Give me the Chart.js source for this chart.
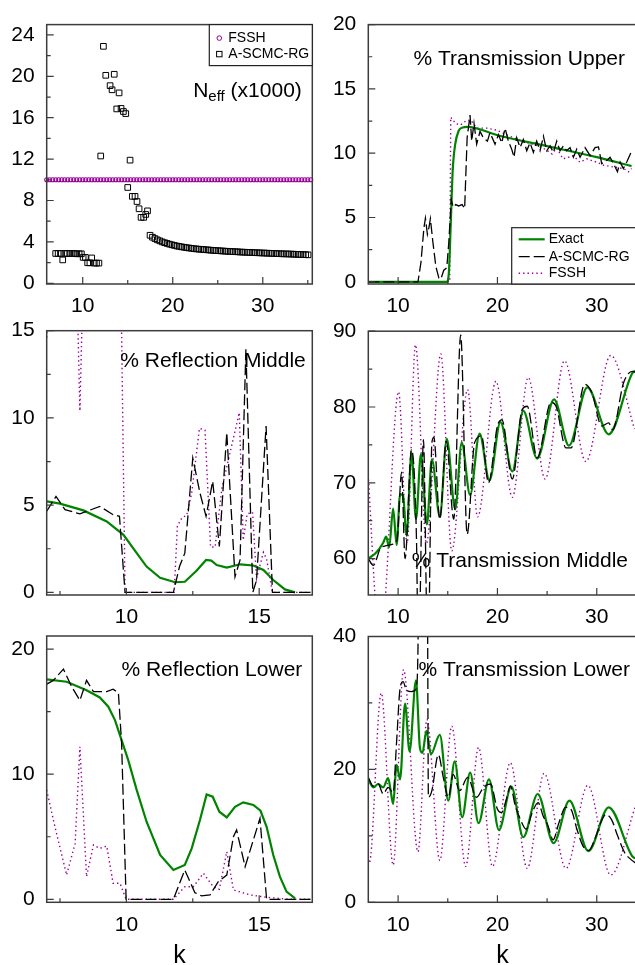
<!DOCTYPE html>
<html>
<head>
<meta charset="utf-8">
<title>Transmission / reflection vs k</title>
<script src="https://cdn.jsdelivr.net/npm/chart.js@4.4.1/dist/chart.umd.min.js"></script>
<style>
  html, body { margin: 0; padding: 0; background: #fff; overflow: hidden; width: 635px; height: 965px; }
  .panel { position: absolute; }
  .panel canvas { display: block; }
</style>
</head>
<body>
<div class="panel"><canvas id="neff"></canvas></div>
<div class="panel"><canvas id="transUpper"></canvas></div>
<div class="panel"><canvas id="reflMiddle"></canvas></div>
<div class="panel"><canvas id="transMiddle"></canvas></div>
<div class="panel"><canvas id="reflLower"></canvas></div>
<div class="panel"><canvas id="transLower"></canvas></div>
<script>
// ---- data ----

// tick labels
const kTicksWide = [10, 20, 30];
const kMinorWide = [15, 25];
const kMinorNeff = [15, 25, 35];
const kTicksNarrow = [10, 15];
const kMinorNarrow = [7.5, 12.5];
const neffTicks = [0, 4, 8, 12, 16, 20, 24];
const neffMinor = [2, 6, 10, 14, 18, 22];
const upperTicks = [0, 5, 10, 15, 20];
const upperMinor = [2.5, 7.5, 12.5, 17.5];
const reflMidTicks = [0, 5, 10, 15];
const reflMidMinor = [2.5, 7.5, 12.5];
const transMidTicks = [60, 70, 80, 90];
const transMidMinor = [65, 75, 85];
const reflLowTicks = [0, 10, 20];
const reflLowMinor = [5, 15];
const transLowTicks = [0, 20, 40];
const transLowMinor = [10, 30];

// N_eff (x1000)
const neffFssh = 10;
const neffFsshK = [6.0, 6.33, 6.67, 7.0, 7.33, 7.67, 8.0, 8.33, 8.67, 9.0, 9.33, 9.67, 10.0, 10.33, 10.67,
  11.0, 11.33, 11.67, 12.0, 12.33, 12.67, 13.0, 13.33, 13.67, 14.0, 14.33, 14.67, 15.0, 15.33, 15.67,
  16.0, 16.33, 16.67, 17.0, 17.33, 17.67, 18.0, 18.33, 18.67, 19.0, 19.33, 19.67, 20.0, 20.33, 20.67,
  21.0, 21.33, 21.67, 22.0, 22.33, 22.67, 23.0, 23.33, 23.67, 24.0, 24.33, 24.67, 25.0, 25.33, 25.67,
  26.0, 26.33, 26.67, 27.0, 27.33, 27.67, 28.0, 28.33, 28.67, 29.0, 29.33, 29.67, 30.0, 30.33, 30.67,
  31.0, 31.33, 31.67, 32.0, 32.33, 32.67, 33.0, 33.33, 33.67, 34.0, 34.33, 34.67, 35.0, 35.33];
const neffScmcK = [7.0, 7.27, 7.53, 7.78, 8.03, 8.3, 8.56, 8.82, 9.08, 9.34, 9.6, 9.85,
  10.05, 10.3, 10.55, 10.8, 11.0, 11.28, 11.53, 11.8, 12.0, 12.3, 12.56, 13.04, 13.26, 13.5, 13.78,
  14.04, 14.26, 14.52, 14.78, 15.0, 15.26, 15.51, 15.81, 16.03, 16.26, 16.48, 16.77, 17.0, 17.2,
  17.48, 17.75, 18.02, 18.29, 18.56, 18.83, 19.1, 19.37, 19.64, 19.91,
  20.18, 20.45, 20.72, 20.99, 21.26, 21.53, 21.8, 22.07, 22.34, 22.61,
  22.88, 23.15, 23.42, 23.69, 23.96, 24.23, 24.5, 24.77, 25.04, 25.31,
  25.58, 25.85, 26.12, 26.39, 26.66, 26.93, 27.2, 27.47, 27.74, 28.01,
  28.28, 28.55, 28.82, 29.09, 29.36, 29.63, 29.9, 30.17, 30.44, 30.71,
  30.98, 31.25, 31.52, 31.79, 32.06, 32.33, 32.6, 32.87, 33.14, 33.41,
  33.68, 33.95, 34.22, 34.49, 34.76, 35.03];
const neffScmc = [2.88, 2.88, 2.88, 2.26, 2.88, 2.88, 2.88, 2.88, 2.88, 2.85, 2.85, 2.85,
  2.5, 2.5, 1.98, 1.98, 2.45, 1.95, 1.95, 1.95, 12.3, 22.9, 20.1, 19.1, 18.7, 20.2, 16.85,
  18.4, 16.9, 16.6, 16.4, 9.26, 11.9, 8.4, 8.4, 7.9, 7.2, 6.37, 6.37, 6.65, 7.0,
  4.64, 4.45, 4.32, 4.2, 4.1, 4.0, 3.92, 3.85, 3.78, 3.72,
  3.66, 3.6, 3.56, 3.52, 3.48, 3.44, 3.41, 3.38, 3.35, 3.32,
  3.3, 3.28, 3.26, 3.24, 3.22, 3.2, 3.18, 3.16, 3.15, 3.13,
  3.12, 3.1, 3.09, 3.07, 3.06, 3.05, 3.04, 3.02, 3.01, 3.0,
  2.99, 2.98, 2.97, 2.96, 2.95, 2.94, 2.93, 2.92, 2.91, 2.9,
  2.89, 2.88, 2.87, 2.86, 2.85, 2.84, 2.84, 2.83, 2.82, 2.81,
  2.8, 2.79, 2.78, 2.77, 2.76, 2.75];

// % Transmission Upper
const tuExactK = [7, 14.9, 15.1, 15.3, 15.5, 15.75, 16.1, 16.5, 17.0, 20.0, 25.0, 30.0, 33.5];
const tuExact = [0, 0, 0.6, 4.5, 8.7, 10.7, 11.75, 12.0, 12.05, 11.4, 10.55, 9.7, 9.0];
const tuScmcK = [7, 12.0, 12.3, 12.6, 12.75, 12.95, 13.1, 13.25, 13.5, 13.8,
  14.1, 14.3, 14.6, 14.9, 15.1, 15.35, 15.55, 15.8, 16.1, 16.45,
  16.7, 16.95, 17.24, 17.41, 17.64, 17.91, 18.25, 18.58, 18.99, 19.25,
  19.76, 20.1, 20.43, 20.77, 21.1, 21.44, 21.67, 21.94, 22.28, 22.61,
  22.95, 23.28, 23.62, 23.95, 24.29, 24.63, 24.96, 25.3, 25.63, 25.97,
  26.3, 26.64, 26.97, 27.31, 27.65, 27.98, 28.32, 28.82, 29.33, 29.83,
  30.17, 30.5, 31.0, 31.34, 31.68, 32.08, 32.35, 32.68, 33.02, 33.52];
const tuScmc = [0, 0, 1.5, 4.2, 4.95, 3.7, 4.2, 4.9, 3.1, 1.2,
  0.3, 0.2, 0.9, 1.1, 3.0, 6.4, 5.8, 6.0, 5.9, 6.0,
  5.7, 11.2, 12.96, 10.94, 12.33, 10.7, 11.7, 11.2, 10.94, 11.6,
  10.7, 11.45, 10.8, 11.95, 10.94, 10.3, 9.69, 11.2, 10.44, 11.07,
  10.19, 10.82, 10.06, 10.94, 10.19, 11.32, 10.19, 10.57, 10.06, 10.94,
  10.19, 10.57, 10.19, 10.44, 9.69, 10.31, 9.69, 10.44, 9.81, 10.44,
  10.49, 9.19, 9.44, 9.69, 9.19, 8.56, 9.31, 8.81, 9.31, 10.19];
const tuFsshK = [7, 15.2, 15.3, 15.8, 16.3, 16.8, 17.3, 17.9, 18.9, 19.9, 21.3, 22.6, 23.6,
  24.6, 25.5, 25.97, 26.6, 27.65, 28.3, 29.0, 30.0, 30.7, 31.7, 32.7, 33.2, 33.5];
const tuFssh = [0, 0, 12.8, 12.3, 12.2, 12.5, 12.6, 11.95, 11.95, 11.8, 11.3, 10.9, 10.7,
  10.4, 9.94, 10.4, 9.56, 9.8, 9.3, 9.56, 9.3, 9.06, 8.93, 8.81, 8.56, 8.81];

// % Reflection Middle
const rmExactK = [7.0, 7.5, 8.38, 9.26, 9.89, 10.39, 10.76, 11.27, 11.83, 12.2, 12.65,
  13.0, 13.2, 13.4, 13.78, 14.28, 14.78, 15.16, 15.53, 15.97, 16.35];
const rmExact = [5.22, 5.09, 4.7, 4.07, 3.3, 2.25, 1.48, 0.84, 0.58, 0.61, 1.25,
  1.86, 1.82, 1.57, 1.42, 1.61, 1.54, 1.29, 0.71, 0.17, 0];
const rmScmcK = [7.0, 7.35, 7.69, 8.25, 9.0, 9.5, 9.74, 9.95, 11.77, 12.0, 12.2, 12.5, 12.77,
  13.0, 13.25, 13.5, 13.78, 14.09, 14.28, 14.5, 14.76, 14.9, 15.26, 15.5, 17.0];
const rmScmc = [4.65, 5.5, 4.74, 4.5, 4.93, 4.45, 4.36, 0, 0, 1.48, 2.25, 7.7, 5.7,
  4.36, 6.37, 2.63, 9.15, 0.9, 1.86, 13.95, 0, 0.7, 9.54, 0, 0];
const rmFsshK = [7.0, 7.1, 8.1, 8.25, 8.4, 9.75, 9.82, 9.95, 11.8, 11.92, 12.1, 12.27, 12.46, 12.75,
  12.96, 13.17, 13.34, 13.6, 14.25, 14.4, 14.55, 14.75, 14.9, 15.16, 15.28, 15.5, 17.0];
const rmFssh = [14.6, 20, 20, 10.4, 20, 20, 14.9, 0, 0, 3.8, 4.3, 4.4, 5.7, 9.4,
  9.3, 2.6, 2.6, 6.0, 10.3, 3.0, 4.5, 4.6, 0.8, 2.3, 1.9, 0, 0];

// % Transmission Middle
const tmExactK = [7.0, 7.8, 8.5, 8.8, 9.1, 9.5, 9.85, 10.2, 10.5, 10.85, 11.35, 11.8, 12.3, 12.9,
  13.4, 14.2, 14.9, 15.75, 16.4, 17.25, 18.2, 19.2, 20.3, 21.5, 22.6, 24.0, 25.7, 27.2, 29.05,
  31.2, 33.6, 34.0];
const tmExact = [60.0, 60.8, 62.1, 62.9, 61.5, 66.6, 61.8, 68.5, 68.3, 63.0, 74.0, 65.2, 73.8, 64.5,
  73.1, 65.5, 75.8, 66.5, 75.3, 68.4, 76.5, 70.3, 78.0, 71.5, 79.5, 73.2, 81.0, 74.9, 82.6,
  76.4, 84.5, 84.8];
const tmScmcK = [7.0, 7.5, 8.2, 8.8, 9.5, 9.9, 10.35, 10.7, 11.35, 11.85, 12.0, 12.1, 12.55, 12.95,
  13.05, 13.4, 13.6, 14.2, 14.85, 15.6, 16.3, 16.95, 17.7, 18.4, 19.1, 20.0, 20.45, 21.5, 22.5,
  23.0, 24.0, 25.4, 25.9, 26.9, 27.4, 28.8, 29.5, 30.5, 31.2, 31.6, 32.7, 33.6, 34.0];
const tmScmc = [60.0, 59.1, 61.3, 61.7, 61.9, 62.5, 71.4, 60.0, 74.4, 62.6, 50, 50, 75.7, 50,
  50, 75.3, 76.0, 65.2, 75.5, 65.2, 89.5, 63.2, 75.3, 76.2, 70.0, 77.5, 78.3, 70.5, 79.7,
  80.1, 73.3, 80.6, 80.1, 74.6, 74.6, 83.0, 81.9, 77.5, 77.9, 77.0, 83.2, 84.7, 84.5];
const tmFsshK = [7.0, 7.8, 8.2, 8.6, 10.05, 10.9, 11.75, 12.85, 14.3, 15.4, 17.0, 18.0, 19.85,
  21.5, 23.1, 24.8, 26.75, 28.9, 31.4, 33.8];
const tmFssh = [71.0, 53, 50, 53, 82.0, 62.0, 88.2, 62.0, 87.0, 61.0, 82.3, 65.5, 83.4,
  68.1, 83.9, 70.5, 86.1, 72.8, 86.8, 77.1];

// % Reflection Lower
const rlExactK = [7.0, 7.75, 8.5, 9.0, 9.32, 9.57, 9.82, 10.07, 10.39, 10.76, 11.27, 11.77, 12.2,
  12.46, 12.77, 13.02, 13.25, 13.5, 13.78, 14.09, 14.4, 14.78, 15.05, 15.28, 15.53, 15.78, 16.03, 16.35];
const rlExact = [17.58, 17.39, 16.72, 16.14, 15.4, 14.33, 12.73, 11.13, 8.73, 6.2, 3.54, 2.34, 2.74,
  4.07, 6.34, 8.39, 8.2, 7.0, 6.55, 7.4, 7.75, 7.54, 7.08, 5.8, 3.54, 1.81, 0.61, 0.08];
const rlScmcK = [7.0, 7.25, 7.63, 7.94, 8.25, 8.5, 8.76, 9.26, 9.5, 9.7, 9.82, 9.99, 11.77, 12.2,
  12.58, 12.83, 13.15, 13.46, 13.78, 14.03, 14.15, 14.47, 14.78, 15.03, 15.28, 17.0];
const rlScmc = [17.2, 17.5, 18.4, 17.0, 15.9, 17.5, 16.6, 16.6, 16.8, 16.5, 12.5, 0, 0, 2.34,
  0.53, 0.27, 0.35, 1.41, 1.94, 5.0, 5.54, 2.61, 4.74, 6.47, 0, 0];
const rlFsshK = [7.0, 7.31, 7.75, 8.07, 8.25, 8.5, 8.76, 9.0, 9.26, 9.5, 9.76, 9.99, 11.77, 12.2,
  12.52, 12.9, 13.27, 13.5, 13.78, 14.03, 14.66, 15.28, 16.16, 17.0];
const rlFssh = [8.73, 5.8, 1.94, 4.47, 12.2, 1.81, 4.34, 4.07, 4.26, 1.28, 1.28, 0, 0, 1.0,
  1.0, 2.08, 1.0, 0.8, 3.81, 0.75, 0.35, 0.16, 0, 0];

// % Transmission Lower
const tlExactK = [7.0, 7.5, 8.0, 8.5, 9.0, 9.3, 9.5, 9.85, 10.2, 10.7, 11.15, 11.8, 12.2, 12.45,
  12.85, 13.3, 14.2, 15.05, 15.7, 16.45, 17.25, 18.1, 19.15, 20.15, 21.4, 22.6, 24.05, 25.65,
  27.25, 29.15, 31.2, 33.65, 34.0];
const tlExact = [18.5, 17.3, 17.8, 17.3, 18.7, 16.3, 14.8, 20.7, 18.5, 29.9, 22.7, 33.4, 23.2, 22.5,
  25.8, 22.3, 25.2, 15.3, 21.2, 12.8, 19.5, 11.9, 18.5, 10.9, 17.4, 9.8, 16.3, 8.9,
  15.3, 7.7, 14.3, 6.8, 6.6];
const tlScmcK = [7.0, 7.5, 8.0, 8.5, 9.0, 9.5, 9.85, 10.2, 10.5, 10.85, 11.35, 11.85, 12.0, 12.05,
  12.95, 13.05, 13.4, 14.05, 14.55, 15.05, 15.55, 16.2, 17.0, 17.9, 18.6, 19.3, 20.0, 20.4,
  20.9, 21.3, 21.8, 22.3, 22.9, 23.5, 24.1, 24.6, 25.1, 25.6, 26.2, 26.85, 27.4, 28.0,
  28.6, 29.2, 29.8, 30.4, 30.9, 31.5, 32.1, 32.8, 33.4, 33.9];
const tlScmc = [18.8, 17.5, 17.8, 16.3, 17.3, 16.5, 24.2, 32.2, 33.2, 31.9, 31.7, 32.2, 38, 45,
  45, 15.8, 16.8, 22.2, 18.8, 15.8, 19.2, 16.8, 18.8, 15.8, 17.3, 17.8, 14.0, 13.5,
  15.5, 17.5, 14.5, 12.5, 11.0, 13.5, 15.0, 13.0, 11.5, 9.4, 12.0, 14.3, 14.0, 11.0,
  8.5, 7.8, 9.5, 12.0, 13.2, 12.4, 10.0, 7.5, 6.5, 5.9];
const tlFsshK = [7.0, 7.1, 8.3, 9.5, 10.55, 12.0, 12.9, 14.2, 15.4, 16.8, 18.1, 19.5, 21.3, 23.0,
  24.7, 26.9, 29.1, 31.4, 33.9];
const tlFssh = [7.0, 5.9, 31.5, 5.6, 35.0, 7.6, 27.5, 6.3, 26.5, 5.4, 23.3, 5.4, 21.0, 5.1,
  19.4, 5.1, 17.6, 4.1, 14.5];

// ---- styling ----
const FONT = '"Liberation Sans", Arial, Helvetica, sans-serif';
const GREEN = '#008400';
const PURPLE = '#990099';
const FRAME = '#3c3c3c';

function pts(ks, vs) {
  return ks.map((k, i) => ({ x: k, y: vs[i] }));
}

function exact(ks, vs, smooth) {
  return { label: 'Exact', data: pts(ks, vs), borderColor: GREEN, borderWidth: 2.2, pointRadius: 0,
    cubicInterpolationMode: smooth ? 'monotone' : 'default', tension: 0 };
}
function scmc(ks, vs, smooth) {
  return { label: 'A-SCMC-RG', data: pts(ks, vs), borderColor: '#000', borderWidth: 1.3,
    borderDash: [11, 4], pointRadius: 0, cubicInterpolationMode: smooth ? 'monotone' : 'default', tension: 0 };
}
function fssh(ks, vs, smooth) {
  return { label: 'FSSH', data: pts(ks, vs), borderColor: PURPLE, borderWidth: 1.4,
    borderDash: [1.4, 3], pointRadius: 0, cubicInterpolationMode: smooth ? 'monotone' : 'default', tension: 0 };
}

// frame, inward ticks, in-plot titles and legends
const decoPlugin = {
  id: 'deco',
  afterDraw(chart, args, o) {
    const { ctx, chartArea: a, scales: { x, y } } = chart;
    ctx.save();
    ctx.strokeStyle = FRAME;
    ctx.lineWidth = 1.2;
    ctx.beginPath();
    const tick = (axis, vals, len) => {
      for (const v of vals) {
        if (axis === x) {
          const px = x.getPixelForValue(v);
          ctx.moveTo(px, a.bottom); ctx.lineTo(px, a.bottom - len);
        } else {
          const py = y.getPixelForValue(v);
          ctx.moveTo(a.left, py); ctx.lineTo(a.left + len, py);
        }
      }
    };
    tick(x, o.xMajor, 7); tick(x, o.xMinor, 4);
    tick(y, o.yMajor, 7); tick(y, o.yMinor, 4);
    ctx.stroke();
    ctx.lineWidth = 1.5;
    ctx.strokeRect(a.left, a.top, a.right - a.left, a.bottom - a.top);

    // in-plot title
    if (o.title) {
      const t = o.title;
      let total = 0;
      for (const p of t.parts) {
        ctx.font = p.size + 'px ' + FONT;
        total += ctx.measureText(p.text).width;
      }
      let tx = a.right - t.right - total;
      const ty = t.fromBottom ? a.bottom - t.y : a.top + t.y;
      ctx.fillStyle = '#000';
      ctx.textBaseline = 'middle';
      ctx.textAlign = 'left';
      for (const p of t.parts) {
        ctx.font = p.size + 'px ' + FONT;
        ctx.fillText(p.text, tx, ty + (p.dy || 0));
        tx += ctx.measureText(p.text).width;
      }
    }

    // legend box
    if (o.legend) {
      const L = o.legend;
      const bx = a.right - L.fromRight;
      const by = L.corner === 'top' ? a.top : a.bottom - L.h;
      ctx.setLineDash([]);
      ctx.fillStyle = '#fff';
      ctx.fillRect(bx, by, L.w, L.h);
      ctx.strokeStyle = '#222';
      ctx.lineWidth = 1.2;
      ctx.strokeRect(bx, by, L.w, L.h);
      ctx.font = L.size + 'px ' + FONT;
      ctx.textBaseline = 'middle';
      ctx.textAlign = 'left';
      L.rows.forEach((r, i) => {
        const ry = by + L.rowY[i];
        ctx.save();
        if (r.kind === 'line') {
          ctx.strokeStyle = r.color;
          ctx.lineWidth = r.width;
          ctx.setLineDash(r.dash || []);
          ctx.beginPath();
          ctx.moveTo(bx + L.lineFrom, ry); ctx.lineTo(bx + L.lineTo, ry);
          ctx.stroke();
        } else if (r.kind === 'circle') {
          ctx.strokeStyle = r.color; ctx.lineWidth = 1;
          ctx.beginPath(); ctx.arc(bx + L.markX, ry, 2.3, 0, Math.PI * 2); ctx.stroke();
        } else {
          ctx.strokeStyle = r.color; ctx.lineWidth = 1;
          ctx.strokeRect(bx + L.markX - 2.7, ry - 2.7, 5.4, 5.4);
        }
        ctx.restore();
        ctx.fillStyle = '#000';
        ctx.fillText(r.label, bx + L.textX, ry);
      });
    }
    ctx.restore();
  }
};

function makePanel(id, p) {
  const canvas = document.getElementById(id);
  const holder = canvas.parentNode;
  const b = p.box, a = p.area;
  holder.style.left = b.l + 'px';
  holder.style.top = b.t + 'px';
  canvas.width = b.w; canvas.height = b.h;
  canvas.style.width = b.w + 'px'; canvas.style.height = b.h + 'px';

  const tickFont = { family: FONT, size: 21 };
  return new Chart(canvas, {
    type: 'line',
    data: { datasets: p.datasets },
    plugins: [decoPlugin],
    options: {
      responsive: false,
      animation: false,
      devicePixelRatio: 1,
      layout: { padding: { left: 0, top: a.t - b.t, right: b.l + b.w - a.r, bottom: 0 } },
      plugins: {
        legend: { display: false },
        tooltip: { enabled: false },
        deco: p.deco
      },
      scales: {
        x: {
          type: 'linear', min: p.x.min, max: p.x.max,
          grid: { display: false, drawTicks: false },
          border: { display: false },
          afterBuildTicks: s => { s.ticks = p.x.ticks.map(v => ({ value: v })); },
          afterFit: s => { s.height = b.t + b.h - a.b; },
          ticks: { font: tickFont, color: '#000', padding: 10, maxRotation: 0, autoSkip: false },
          title: p.kTitle ? { display: true, text: 'k', color: '#000',
            font: { family: FONT, size: 25, lineHeight: 1 }, padding: { top: 0, bottom: 1 } } : { display: false }
        },
        y: {
          type: 'linear', min: p.y.min, max: p.y.max,
          grid: { display: false, drawTicks: false },
          border: { display: false },
          afterBuildTicks: s => { s.ticks = p.y.ticks.map(v => ({ value: v })); },
          afterFit: s => { s.width = a.l - b.l; },
          ticks: { font: tickFont, color: '#000', padding: 12, autoSkip: false }
        }
      }
    }
  });
}

// ---- panels ----
makePanel('neff', {
  box: { l: 0, t: 0, w: 320, h: 320 },
  area: { l: 46.7, t: 18, r: 312.3, b: 284 },
  x: { min: 6, max: 35.5, ticks: kTicksWide },
  y: { min: -0.07, max: 25, ticks: neffTicks },
  datasets: [
    { label: 'A-SCMC-RG', data: pts(neffScmcK, neffScmc), showLine: false, pointStyle: 'rect',
      pointRadius: 4, borderColor: '#000', borderWidth: 1, backgroundColor: 'rgba(0,0,0,0)', clip: false },
    { label: 'FSSH', data: neffFsshK.map(k => ({ x: k, y: neffFssh })), showLine: false, pointStyle: 'circle',
      pointRadius: 2, borderColor: PURPLE, borderWidth: 1.1, backgroundColor: 'rgba(0,0,0,0)', clip: false }
  ],
  deco: {
    xMajor: kTicksWide, xMinor: kMinorNeff, yMajor: neffTicks, yMinor: neffMinor,
    title: { right: 10.5, y: 67, parts: [{ text: 'N', size: 21 }, { text: 'eff', size: 15, dy: 5 }, { text: ' (x1000)', size: 21 }] },
    legend: { corner: 'top', fromRight: 103, w: 103, h: 41, size: 14, markX: 10, textX: 19, rowY: [13.5, 29.5],
      rows: [{ kind: 'circle', color: PURPLE, label: 'FSSH' }, { kind: 'rect', color: '#000', label: 'A-SCMC-RG' }] }
  }
});

makePanel('transUpper', {
  box: { l: 320, t: 0, w: 320, h: 320 },
  area: { l: 368.3, t: 16.7, r: 636.5, b: 284 },
  x: { min: 7, max: 34, ticks: kTicksWide },
  y: { min: -0.17, max: 20, ticks: upperTicks },
  datasets: [scmc(tuScmcK, tuScmc, false), exact(tuExactK, tuExact, true), fssh(tuFsshK, tuFssh, false)],
  deco: {
    xMajor: kTicksWide, xMinor: kMinorWide, yMajor: upperTicks, yMinor: upperMinor,
    title: { right: 11.5, y: 35, parts: [{ text: '% Transmission Upper', size: 21 }] },
    legend: { corner: 'bottom', fromRight: 124.8, w: 130, h: 56.3, size: 14, lineFrom: 7, lineTo: 33, textX: 37,
      rowY: [11.6, 29, 45.6],
      rows: [{ kind: 'line', color: GREEN, width: 2.2, label: 'Exact' },
             { kind: 'line', color: '#000', width: 1.3, dash: [11, 4], label: 'A-SCMC-RG' },
             { kind: 'line', color: PURPLE, width: 1.4, dash: [1.4, 3], label: 'FSSH' }] }
  }
});

makePanel('reflMiddle', {
  box: { l: 0, t: 305, w: 320, h: 325 },
  area: { l: 46.7, t: 330.7, r: 312.3, b: 595 },
  x: { min: 7, max: 17, ticks: kTicksNarrow },
  y: { min: -0.15, max: 15, ticks: reflMidTicks },
  datasets: [scmc(rmScmcK, rmScmc, false), exact(rmExactK, rmExact, false), fssh(rmFsshK, rmFssh, false)],
  deco: {
    xMajor: kTicksNarrow, xMinor: kMinorNarrow, yMajor: reflMidTicks, yMinor: reflMidMinor,
    title: { right: 6.5, y: 31, parts: [{ text: '% Reflection Middle', size: 21 }] }
  }
});

makePanel('transMiddle', {
  box: { l: 320, t: 305, w: 320, h: 325 },
  area: { l: 368.3, t: 331.2, r: 636.5, b: 595 },
  x: { min: 7, max: 34, ticks: kTicksWide },
  y: { min: 55.2, max: 90, ticks: transMidTicks },
  datasets: [scmc(tmScmcK, tmScmc, true), exact(tmExactK, tmExact, true), fssh(tmFsshK, tmFssh, true)],
  deco: {
    xMajor: kTicksWide, xMinor: kMinorWide, yMajor: transMidTicks, yMinor: transMidMinor,
    title: { right: 8.5, y: 33.5, fromBottom: true, parts: [{ text: '% Transmission Middle', size: 21 }] }
  }
});

makePanel('reflLower', {
  box: { l: 0, t: 610, w: 320, h: 360 },
  area: { l: 46.7, t: 636, r: 312.3, b: 902.3 },
  x: { min: 7, max: 17, ticks: kTicksNarrow },
  y: { min: -0.24, max: 21.05, ticks: reflLowTicks },
  kTitle: true,
  datasets: [scmc(rlScmcK, rlScmc, false), exact(rlExactK, rlExact, false), fssh(rlFsshK, rlFssh, false)],
  deco: {
    xMajor: kTicksNarrow, xMinor: kMinorNarrow, yMajor: reflLowTicks, yMinor: reflLowMinor,
    title: { right: 10, y: 34, parts: [{ text: '% Reflection Lower', size: 21 }] }
  }
});

makePanel('transLower', {
  box: { l: 320, t: 610, w: 320, h: 360 },
  area: { l: 368.3, t: 636.5, r: 636.5, b: 902.3 },
  x: { min: 7, max: 34, ticks: kTicksWide },
  y: { min: 0, max: 40, ticks: transLowTicks },
  kTitle: true,
  datasets: [scmc(tlScmcK, tlScmc, true), exact(tlExactK, tlExact, true), fssh(tlFsshK, tlFssh, true)],
  deco: {
    xMajor: kTicksWide, xMinor: kMinorWide, yMajor: transLowTicks, yMinor: transLowMinor,
    title: { right: 6.5, y: 33.5, parts: [{ text: '% Transmission Lower', size: 21 }] }
  }
});
</script>
</body>
</html>
